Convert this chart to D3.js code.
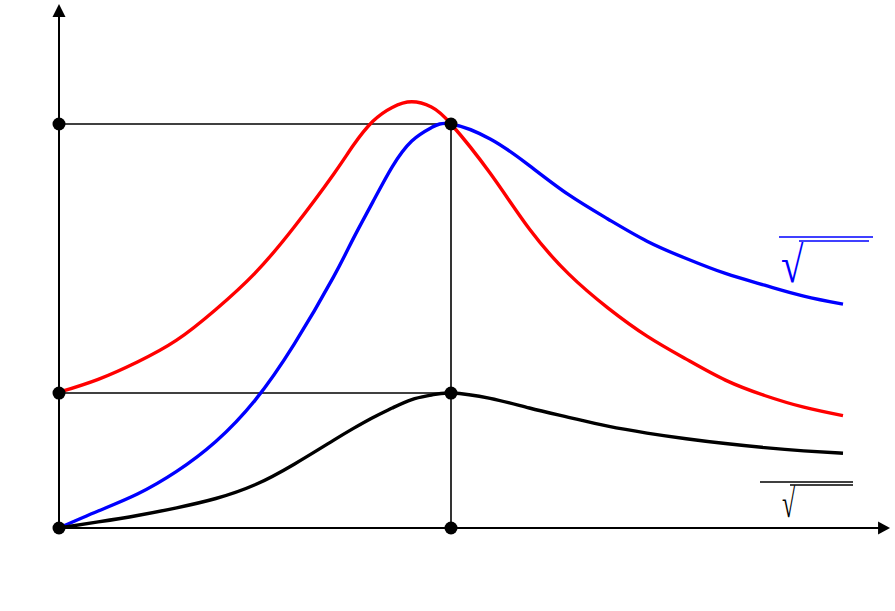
<!DOCTYPE html>
<html>
<head>
<meta charset="utf-8">
<script src="https://cdn.jsdelivr.net/npm/d3@7"></script>
<style>
  html, body { margin: 0; padding: 0; background: #fff; }
  svg { display: block; }
</style>
</head>
<body>
<svg id="chart" width="895" height="611"></svg>
<script>
// ---- data (frequency ratio vs. normalised amplitude) ----
const xValues = [0, 0.1, 0.2, 0.3, 0.4, 0.5, 0.6, 0.7, 0.75, 0.8, 0.85, 0.9, 0.95, 1.0,
                 1.1, 1.2, 1.3, 1.4, 1.5, 1.6, 1.7, 1.8, 1.9, 2.0];
const redValues = [0.336, 0.368, 0.411, 0.465, 0.541, 0.631, 0.745, 0.875, 0.946, 1.006, 1.041, 1.055, 1.042, 1.000,
                   0.878, 0.740, 0.629, 0.545, 0.475, 0.418, 0.366, 0.328, 0.299, 0.278];
const blueValues = [0.000, 0.042, 0.084, 0.140, 0.214, 0.316, 0.455, 0.621, 0.715, 0.806, 0.894, 0.958, 0.991, 1.000,
                    0.963, 0.897, 0.825, 0.765, 0.710, 0.667, 0.630, 0.601, 0.574, 0.554];
const blackValues = [0.000, 0.015, 0.031, 0.050, 0.073, 0.107, 0.158, 0.217, 0.246, 0.273, 0.297, 0.318, 0.329, 0.334,
                     0.321, 0.297, 0.274, 0.252, 0.235, 0.221, 0.209, 0.199, 0.191, 0.185];
// reference levels / marked points
const xMarks = [0, 1];
const yMarks = [0, 0.334, 1];
const radicalLabels = ["\u221A", "\u221A"];

// ---- layout ----
const svg = d3.select("#chart");
const x = d3.scaleLinear().domain([0, 2]).range([59, 843]);
const y = d3.scaleLinear().domain([0, 1]).range([528, 124]);
const xAxisEnd = 2.12, yAxisEnd = 1.297;

// guide lines
const gGuide = svg.append("g").attr("stroke", "#000").attr("stroke-width", 1.6);
gGuide.append("line").attr("x1", x(xMarks[0])).attr("x2", x(xMarks[1])).attr("y1", y(yMarks[2])).attr("y2", y(yMarks[2]));
gGuide.append("line").attr("x1", x(xMarks[0])).attr("x2", x(xMarks[1])).attr("y1", y(yMarks[1])).attr("y2", y(yMarks[1]));
gGuide.append("line").attr("x1", x(xMarks[1])).attr("x2", x(xMarks[1])).attr("y1", y(yMarks[2])).attr("y2", y(yMarks[0]));

// axes with arrows
const gAxis = svg.append("g");
gAxis.append("line").attr("x1", x(0)).attr("x2", x(xAxisEnd) - 8).attr("y1", y(0)).attr("y2", y(0))
  .attr("stroke", "#000").attr("stroke-width", 2);
gAxis.append("line").attr("x1", x(0)).attr("x2", x(0)).attr("y1", y(0)).attr("y2", y(yAxisEnd) + 8)
  .attr("stroke", "#000").attr("stroke-width", 2);
const xt = x(xAxisEnd), yt = y(0);
gAxis.append("path").attr("d", `M${xt},${yt} L${xt - 12},${yt - 6.5} L${xt - 12},${yt + 6.5} Z`).attr("fill", "#000");
const xa = x(0), ya = y(yAxisEnd);
gAxis.append("path").attr("d", `M${xa},${ya} L${xa - 6.5},${ya + 13} L${xa + 6.5},${ya + 13} Z`).attr("fill", "#000");

// curves
const line = d3.line().x(d => x(d[0])).y(d => y(d[1])).curve(d3.curveNatural);
const series = [
  { values: redValues, color: "#ff0000" },
  { values: blueValues, color: "#0000ff" },
  { values: blackValues, color: "#000000" }
];
svg.append("g").selectAll("path").data(series).join("path")
  .attr("d", s => line(xValues.map((v, i) => [v, s.values[i]])))
  .attr("fill", "none").attr("stroke", s => s.color).attr("stroke-width", 3.4)
  .attr("stroke-linejoin", "round");

// marked points
const pts = [];
xMarks.forEach(a => yMarks.forEach(b => pts.push([a, b])));
svg.append("g").selectAll("circle").data(pts).join("circle")
  .attr("cx", d => x(d[0])).attr("cy", d => y(d[1])).attr("r", 6.5).attr("fill", "#000");

// radical annotations (overlined square roots)
function radical(label, color, lx1, lx2, ly, bx1, bx2, by, gx, gy, fs, sx) {
  const g = svg.append("g");
  g.append("line").attr("x1", lx1).attr("x2", lx2).attr("y1", ly).attr("y2", ly)
    .attr("stroke", color).attr("stroke-width", 1.3);
  g.append("line").attr("x1", bx1).attr("x2", bx2).attr("y1", by).attr("y2", by)
    .attr("stroke", color).attr("stroke-width", 1.3);
  g.append("text").attr("transform", `translate(${gx},${gy}) scale(${sx},1)`).attr("fill", color)
    .attr("font-family", "Liberation Serif, Times New Roman, serif")
    .attr("font-size", fs).text(label);
}
radical(radicalLabels[0], "#0000ff", 779, 873, 237, 799, 869, 241, 781, 282, 51, 0.8);
radical(radicalLabels[1], "#000000", 760, 853, 482, 790, 853, 485, 782, 517, 40, 0.6);
</script>
</body>
</html>
